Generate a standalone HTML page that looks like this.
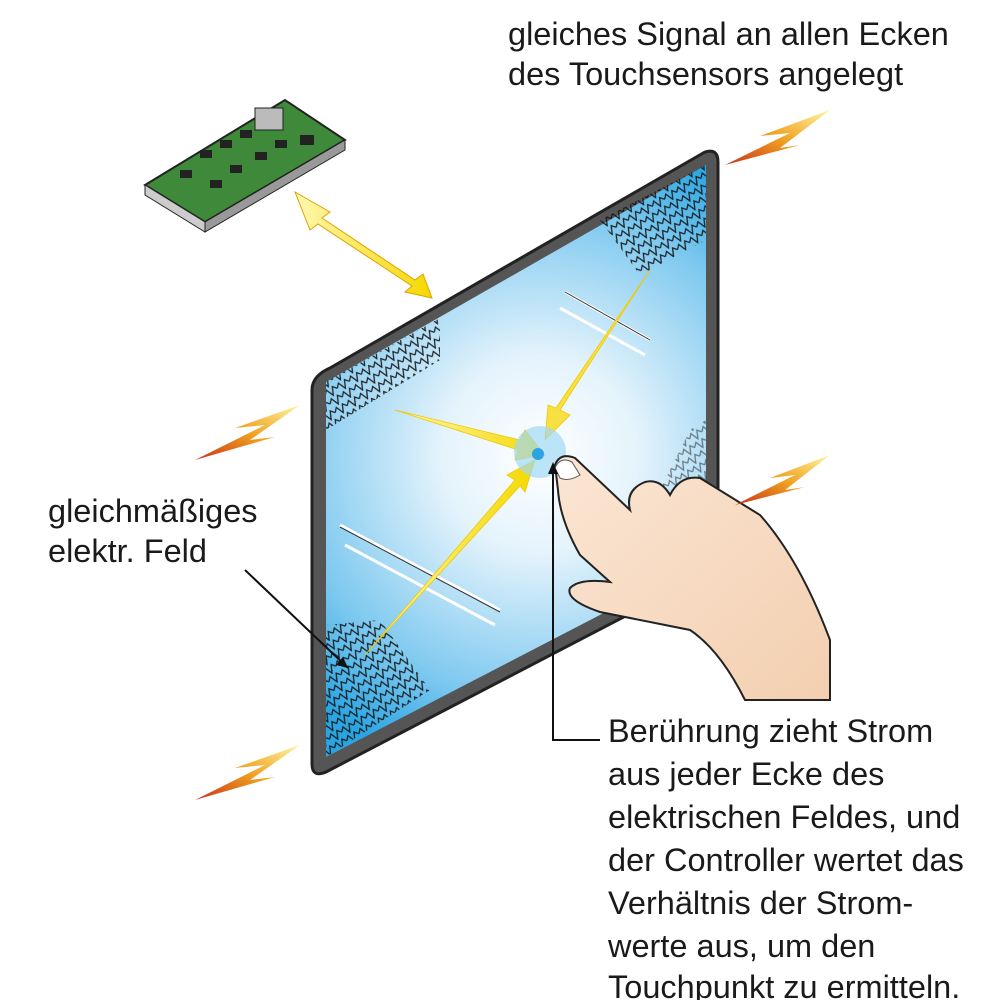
<!DOCTYPE html>
<html><head><meta charset="utf-8"><style>
html,body{margin:0;padding:0;background:#fff;width:1000px;height:1000px;overflow:hidden}
text{font-family:"Liberation Sans",sans-serif;font-size:32.5px;fill:#1a1a1a}
</style></head><body>
<svg width="1000" height="1000" viewBox="0 0 1000 1000">
<defs>
<radialGradient id="glow" cx="540" cy="455" r="330" gradientUnits="userSpaceOnUse">
<stop offset="0" stop-color="#ffffff"/><stop offset="0.3" stop-color="#e4f3fc"/><stop offset="0.75" stop-color="#7cc8ef"/><stop offset="1" stop-color="#2aa5e2"/></radialGradient>
<linearGradient id="bolt" x1="0" y1="1" x2="1" y2="0"><stop offset="0" stop-color="#c8321a"/><stop offset="0.5" stop-color="#f0a020"/><stop offset="1" stop-color="#fff6a0"/></linearGradient>
<linearGradient id="arr" x1="0" y1="0" x2="1" y2="0"><stop offset="0" stop-color="#fff8b0"/><stop offset="1" stop-color="#f5d800"/></linearGradient>
<linearGradient id="skin" x1="0" y1="0" x2="1" y2="1"><stop offset="0" stop-color="#fbe6d4"/><stop offset="1" stop-color="#f3cfb0"/></linearGradient>
<pattern id="zig" width="14" height="10" patternUnits="userSpaceOnUse" patternTransform="rotate(-30)"><path d="M0 5 l3.5 -4 l3.5 8 l3.5 -8 l3.5 4" fill="none" stroke="#111" stroke-width="1.3"/></pattern>
</defs>
<g>
<path d="M330 368 L705 152 Q718 148 718 162 L718 560 Q718 568 708 573 L326 772 Q312 778 312 764 L312 390 Q312 376 330 368 Z" fill="#555" stroke="#222" stroke-width="3"/>
<path d="M326 382 L706 165 L706 560 L326 757 Z" fill="url(#glow)"/>
<path d="M326 382 L440 318 L440 360 L326 430 Z" fill="url(#zig)" opacity="0.9"/>
<path d="M600 220 L706 165 L706 240 L640 275 Z" fill="url(#zig)" opacity="0.9"/>
<path d="M326 625 L380 620 L430 690 L326 757 Z" fill="url(#zig)" opacity="0.9"/>
<path d="M690 430 L706 420 L706 520 L620 570 Z" fill="url(#zig)" opacity="0.5"/>
<g stroke="#fff" stroke-width="3" fill="none">
<path d="M565 292 L650 340"/><path d="M560 308 L645 355"/><path d="M340 525 L500 610"/><path d="M345 545 L495 625"/>
</g>
<g stroke="#333" stroke-width="1" fill="none"><path d="M565 292 L650 340"/><path d="M340 527 L500 612"/></g>
</g>
<g fill="url(#arr)" stroke="#f0c800" stroke-width="0.8">
<path d="M395 410 L520 440 L525 430 L545 455 L515 460 L518 450 Z"/>
<path d="M650 270 L560 410 L570 415 L545 440 L548 405 L556 408 Z" fill="#f8e040"/>
<path d="M365 655 L515 480 L507 475 L535 460 L525 492 L520 486 Z"/>
</g>
<circle cx="540" cy="452" r="26" fill="#9fd8f5" opacity="0.7"/>
<circle cx="538" cy="454" r="6" fill="#2aa5e2"/>
<g>
<path d="M555 465 Q560 452 575 458 L630 510 Q625 490 645 482 Q660 478 670 495 Q680 475 700 478 L760 515 Q800 560 830 640 L830 700 L745 700 Q720 650 690 630 L600 612 Q565 600 570 588 Q580 578 610 582 L580 555 Q560 520 558 490 Z" fill="url(#skin)" stroke="#222" stroke-width="2"/>
<path d="M555 468 Q560 456 572 462 L580 475 Q568 482 560 478 Z" fill="#fff" stroke="#555" stroke-width="1"/>
</g>
<g fill="url(#bolt)">
<path d="M195 460 L265 425 L235 428 L300 405 L250 440 L275 437 Z"/>
<path d="M195 800 L265 765 L235 768 L300 745 L250 780 L275 777 Z"/>
<path d="M735 505 L795 475 L770 478 L830 455 L785 490 L805 487 Z"/>
<path d="M725 165 L790 133 L760 136 L830 110 L780 148 L800 145 Z"/>
</g>
<g>
<path d="M145 185 L285 100 L345 140 L205 222 Z" fill="#3e8a3a" stroke="#222" stroke-width="2"/>
<path d="M145 185 L205 222 L205 232 L145 195 Z" fill="#ccc" stroke="#222"/>
<path d="M205 222 L345 140 L345 150 L205 232 Z" fill="#999" stroke="#222"/>
<g fill="#222"><rect x="255" y="108" width="28" height="22" fill="#bbb" stroke="#222"/><rect x="200" y="150" width="12" height="8"/><rect x="220" y="140" width="12" height="8"/><rect x="240" y="130" width="12" height="8"/><rect x="230" y="165" width="12" height="8"/><rect x="255" y="152" width="12" height="8"/><rect x="275" y="140" width="12" height="8"/><rect x="300" y="135" width="14" height="10"/><rect x="180" y="170" width="12" height="8"/><rect x="210" y="180" width="12" height="8"/></g>
</g>
<path d="M295 192 L330 212 L322 218 L415 280 L423 274 L432 298 L405 292 L412 286 L318 224 L310 230 Z" fill="url(#arr)" stroke="#e0a000" stroke-width="1"/>
<g stroke="#111" stroke-width="2" fill="none">
<path d="M245 570 L348 668"/><path d="M553 470 L553 740 L600 740"/>
</g>
<path d="M348 668 L336 665 L343 657 Z" fill="#111"/>
<path d="M553 462 L548 474 L558 474 Z" fill="#111"/>
<g><text x="508" y="45">gleiches Signal an allen Ecken</text><text x="508" y="85">des Touchsensors angelegt</text></g>
<g><text x="48" y="522">gleichmäßiges</text><text x="48" y="562">elektr. Feld</text></g>
<g>
<text x="608" y="742">Berührung zieht Strom</text>
<text x="608" y="785">aus jeder Ecke des</text>
<text x="608" y="828">elektrischen Feldes, und</text>
<text x="608" y="871">der Controller wertet das</text>
<text x="608" y="914">Verhältnis der Strom-</text>
<text x="608" y="957">werte aus, um den</text>
<text x="608" y="998">Touchpunkt zu ermitteln.</text>
</g>
</svg>
</body></html>
